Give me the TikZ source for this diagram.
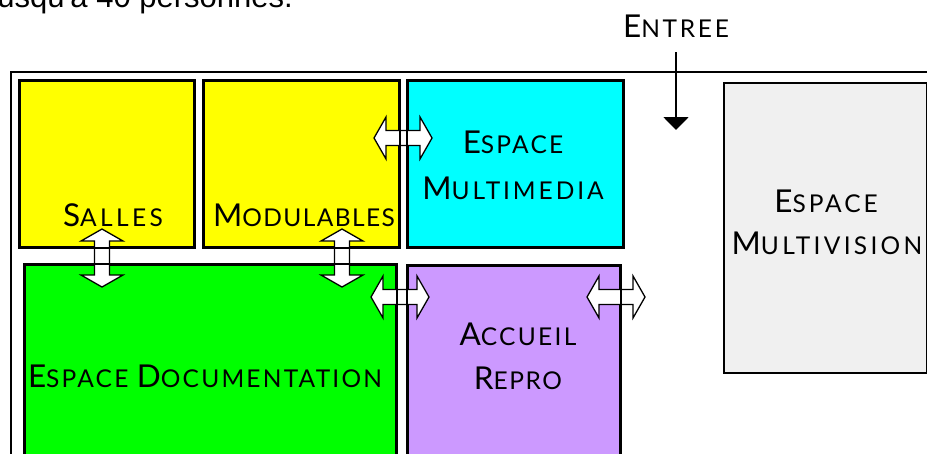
\documentclass[tikz,border=0pt]{standalone}
\usepackage{fontspec}
\setmainfont{Lato}
\newfontfamily\lblfont{Lato}
\newfontfamily\arialfont{Liberation Sans}
\usetikzlibrary{arrows.meta}
\definecolor{cyel}{HTML}{FFFF00}
\definecolor{ccya}{HTML}{00FFFF}
\definecolor{cgre}{HTML}{00FF00}
\definecolor{cpur}{HTML}{CC99FF}
\definecolor{cgry}{HTML}{F0F0F0}
\newcommand{\capbig}[1]{{\fontsize{31.5}{36}\selectfont #1}}
\newcommand{\capsml}[1]{{\fontsize{24.5}{28}\selectfont #1}}
\begin{document}
\begin{tikzpicture}[x=1pt,y=-1pt,
  room/.style={draw=black,line width=2pt,minimum width=#1,inner sep=0pt,anchor=north west},
  lbl/.style={anchor=base,inner sep=0pt,text=black,font={\lblfont\addfontfeature{LetterSpace=#1}}},
  lbl/.default=9,
  dblh/.pic={\draw[fill=white,line width=1.3pt,line join=miter] (-29,0) -- (-17,21) -- (-17,7.5) -- (17,7.5) -- (17,21) -- (29,0) -- (17,-21) -- (17,-7.5) -- (-17,-7.5) -- (-17,-21) -- cycle;}
]
\useasboundingbox (0,0) rectangle (927,453);
% cut top text
\node[anchor=base east,inner sep=0pt,font=\arialfont\fontsize{31}{36}\selectfont] (top) at (293,7.5) {jusqu'à 40 personnes.};
% frame
\draw[line width=2pt] (11,480) -- (11,72) -- (960,72);
% rooms
\node[room=174pt,minimum height=166pt,fill=cyel] (salles) at (19,80) {};
\node[room=195pt,minimum height=166pt,fill=cyel] (modul) at (203,80) {};
\node[room=215pt,minimum height=166pt,fill=ccya] (multi) at (407,80) {};
\node[room=371pt,minimum height=220pt,fill=cgre] (doc) at (24,264) {};
\node[room=212pt,minimum height=220pt,fill=cpur] (acc) at (407,265) {};
\node[room=203pt,minimum height=290pt,fill=cgry] (mvis) at (723,82) {};
% arrows
\pic at (403,138) {dblh};
\pic at (400,297) {dblh};
\pic at (616,297) {dblh};
\pic[rotate=90] at (102,258) {dblh};
\pic[rotate=90] at (342,258) {dblh};
% borders on top
\foreach \n in {salles,modul,multi,doc,acc}
  \draw[line width=2pt] (\n.north west) rectangle (\n.south east);
% entree
\node[lbl=11] (entree) at (676,37) {\capbig{E}\capsml{NTREE}};
\coordinate (etop) at (676,52);
\coordinate (etip) at (676,130);
\draw[line width=2pt,-{Triangle[width=25pt,length=13pt]}] (etop) -- (etip);
% labels
\node[lbl=14] (t1) at (113,226) {\capbig{S}\capsml{ALLES}};
\node[lbl=5.8] (t2) at (304,226) {\capbig{M}\capsml{ODULABLES}};
\node[lbl=9] (t3) at (513,153) {\capbig{E}\capsml{SPACE}};
\node[lbl=12] (t4) at (513,199) {\capbig{M}\capsml{ULTIMEDIA}};
\node[lbl=9] (t5) at (205,387) {\capbig{E}\capsml{SPACE\ }\capbig{D}\capsml{OCUMENTATION}};
\node[lbl=9.5] (t6) at (518,345) {\capbig{A}\capsml{CCUEIL}};
\node[lbl=6.4] (t7) at (518,389) {\capbig{R}\capsml{EPRO}};
\node[lbl=12] (t8) at (826,212) {\capbig{E}\capsml{SPACE}};
\node[lbl=13.5] (t9) at (827,254) {\capbig{M}\capsml{ULTIVISION}};
\end{tikzpicture}
\end{document}
